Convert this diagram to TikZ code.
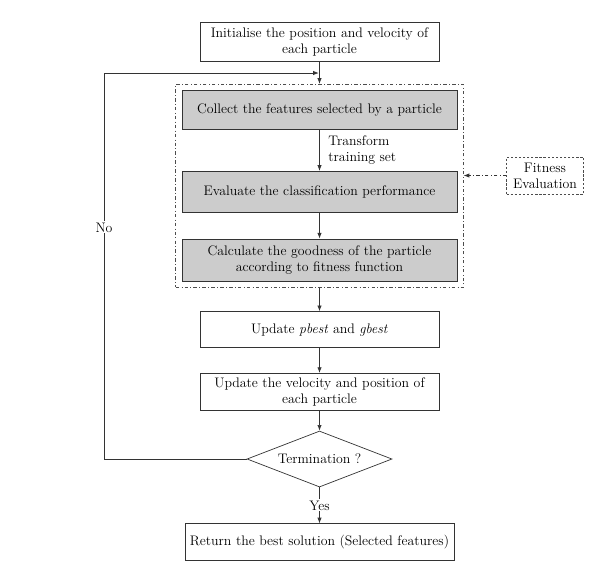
\documentclass[tikz,border=0pt]{standalone}
\usetikzlibrary{positioning,shapes.geometric,arrows.meta,fit,calc}
\begin{document}
\begin{tikzpicture}[font=\fontsize{11.8}{13.6}\selectfont]
    \tikzset{
        stepbox/.style={draw=black!80, line width=0.6pt, align=center, inner sep=2pt},
        greybox/.style={stepbox, fill=gray!40, minimum width=8.25cm},
        whitebox/.style={stepbox, minimum width=7.17cm},
        arrow/.style={draw=black!80, line width=0.6pt, -{Latex[length=1.7mm,width=1.3mm]}},
        label/.style={fill=white, inner sep=1pt}
    }
    \useasboundingbox (0,0) rectangle (18.45,-17.49);
    \node[greybox, minimum height=1.17cm] (collect) at (9.585,-3.3) {Collect the features selected by a particle};
    \node[greybox, minimum height=1.23cm, below=1.23cm of collect] (evaluate) {Evaluate the classification performance};
    \node[greybox, minimum height=1.26cm, below=0.78cm of evaluate] (calculate) {Calculate the goodness of the particle\\according to fitness function};
    \node[whitebox, minimum height=1.17cm, above=0.84cm of collect] (init) {Initialise the position and velocity of\\each particle};
    \node[draw=black!70, line width=0.5pt, dash pattern=on 3pt off 2pt on 0.6pt off 2pt, inner sep=0.18cm, fit=(collect)(calculate)] (fitbox) {};
    \node[whitebox, minimum height=1.08cm, below=0.9cm of calculate] (pbest) {Update \textit{pbest} and \textit{gbest}};
    \node[whitebox, minimum height=1.11cm, below=0.75cm of pbest] (velocity) {Update the velocity and position of\\each particle};
    \node[stepbox, diamond, aspect=2.6, minimum width=4.35cm, minimum height=1.68cm, inner sep=0pt, below=0.6cm of velocity] (term) {Termination ?};
    \node[stepbox, minimum width=8.07cm, minimum height=1.11cm, below=1.08cm of term] (result) {Return the best solution (Selected features)};
    \node[draw=black!70, line width=0.5pt, dash pattern=on 2pt off 1.5pt, align=center, inner sep=1pt, minimum width=2.31cm, minimum height=1.11cm] (fitness) at (16.35,-5.265) {Fitness\\Evaluation};
    \coordinate (join) at ($(init.south)!0.5!(fitbox.north)$);
    \coordinate (loopx) at (3.12,0);
    \draw[arrow] (init) -- (fitbox);
    \draw[arrow] (collect) -- node[right, align=left, xshift=4pt] {Transform\\training set} (evaluate);
    \draw[arrow] (evaluate) -- (calculate);
    \draw[arrow] (fitbox) -- (pbest);
    \draw[arrow] (pbest) -- (velocity);
    \draw[arrow] (velocity) -- (term);
    \draw[arrow] (term) -- node[label] {Yes} (result);
    \draw[arrow] (term.west) -- (term.west -| loopx) |- node[label, pos=0.3] {No} ([xshift=-0.6pt]join);
    \draw[arrow, dash pattern=on 3pt off 2pt on 0.6pt off 2pt] (fitness.west) -- (fitness.west -| fitbox.east);
\end{tikzpicture}
\end{document}
